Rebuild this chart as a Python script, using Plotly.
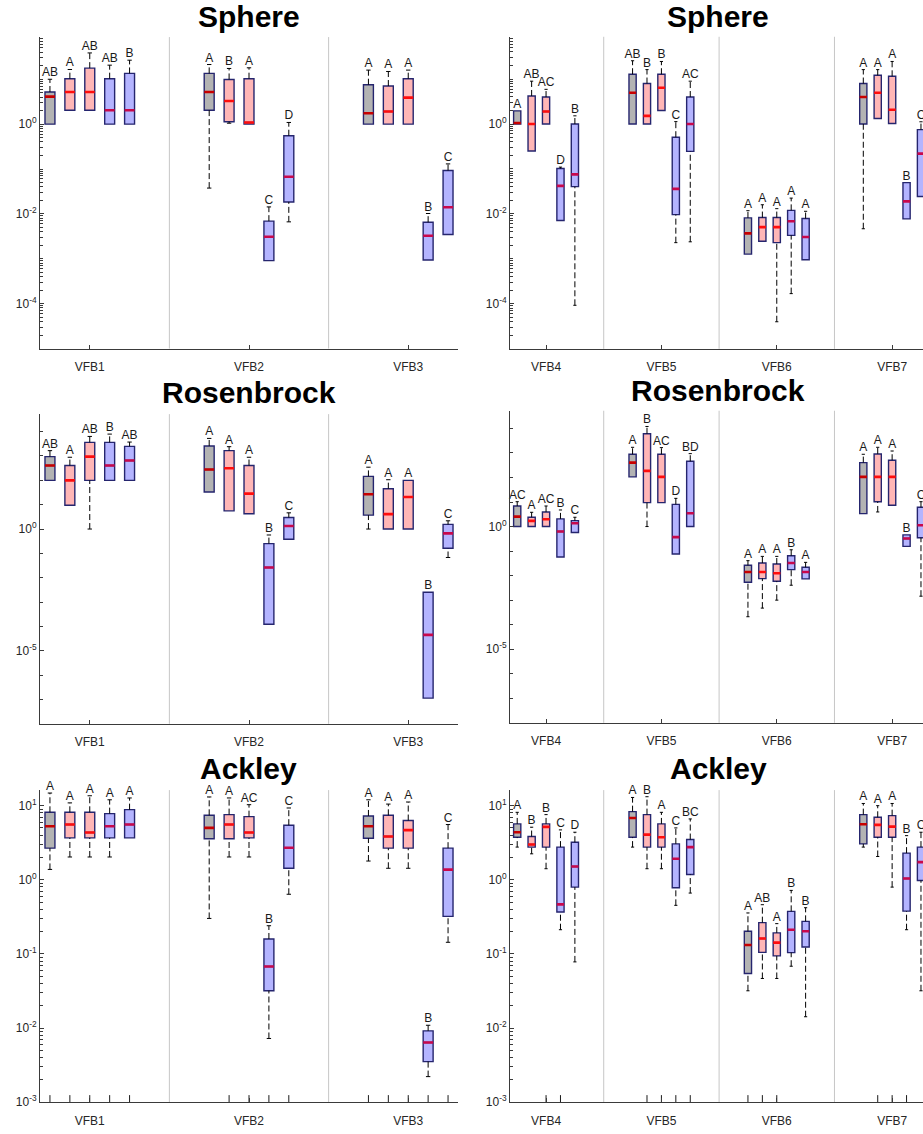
import plotly.graph_objects as go

# ---------------- data ----------------
GROUPS_L = ["VFB1", "VFB2", "VFB3"]
GROUPS_R = ["VFB4", "VFB5", "VFB6", "VFB7"]
BOX_KIND = ["gray", "pink", "pink", "blue", "blue"]

# Sphere, left (VFB1..VFB3)
SPH_L_Q1 = [1, 2.04, 2.04, 1, 1, 2.04, 1.13, 1, 0.00091, 0.01845, 1, 1, 1, 0.00094, 0.00348]
SPH_L_MED = [4.1, 5.2, 5.2, 2.04, 2.04, 5.2, 3.29, 1.09, 0.00309, 0.0671, 1.75, 1.91, 3.9, 0.00326, 0.01405]
SPH_L_Q3 = [5.2, 10.3, 17.7, 10.3, 13.5, 13.5, 9.9, 10.3, 0.00689, 0.552, 7.55, 7.06, 10.3, 0.00653, 0.0927]
SPH_L_LO = [1, 2.04, 2.04, 1, 1, 0.0376, 1.05, 1, 0.00091, 0.00665, 1, 1, 1, 0.00094, 0.00348]
SPH_L_HI = [10, 16.5, 38.6, 20.6, 26.6, 21.3, 17.4, 18, 0.0143, 1.09, 16, 14.9, 16, 0.0102, 0.13]
SPH_L_LBL = ["AB", "A", "AB", "AB", "B", "A", "B", "A", "C", "D", "A", "A", "A", "B", "C"]

# Sphere, right (VFB4..VFB7)
SPH_R_Q1 = [1, 0.251, 1, 0.00713, 0.0405, 1, 1, 2.0, 0.00966, 0.246,
            0.00128, 0.00247, 0.0023, 0.00334, 0.00096, 1, 1.33, 1.03, 0.00776, 0.0245]
SPH_R_MED = [1.05, 1.0, 1.9, 0.042, 0.0757, 4.97, 1.52, 6.4, 0.036, 1.0,
             0.0037, 0.0051, 0.0051, 0.0069, 0.00307, 3.98, 4.97, 2.07, 0.019, 0.219]
SPH_R_Q3 = [1.96, 4.2, 3.98, 0.1025, 1.0, 12.8, 7.95, 12.8, 0.509, 3.98,
            0.00817, 0.0083, 0.0083, 0.012, 0.00789, 7.95, 12.1, 11.5, 0.0497, 0.75]
SPH_R_LO = [1, 0.251, 1, 0.00713, 9.3e-5, 1, 1, 2.0, 0.0023, 0.0024,
            0.00128, 0.00247, 4.0e-5, 1.69e-4, 0.00096, 0.00468, 1.33, 1.03, 0.00776, 0.0245]
SPH_R_HI = [1.96, 8.96, 5.9, 0.11, 1.52, 25.5, 16.2, 24.6, 1.13, 8.96,
            0.0118, 0.016, 0.0131, 0.0225, 0.01145, 16.2, 16.2, 24.6, 0.0497, 1.12]
SPH_R_LBL = ["A", "AB", "AC", "D", "B", "AB", "B", "B", "C", "AC",
             "A", "A", "A", "A", "A", "A", "A", "A", "B", "C"]

# Rosenbrock, left
ROS_L_Q1 = [99.4, 9.5, 99.4, 99.4, 99.4, 33.2, 5.59, 4.22, 1.22e-4, 0.379, 3.72, 1, 1, 1.14e-7, 0.163]
ROS_L_MED = [406, 99.4, 946, 406, 650, 279, 316, 28.4, 0.0265, 1.325, 26.7, 4.09, 20.8, 4.49e-5, 0.666]
ROS_L_Q3 = [946, 406, 3630, 3630, 2494, 2570, 1660, 406, 0.252, 2.99, 145, 45.5, 99.4, 0.00254, 1.55]
ROS_L_LO = [99.4, 9.5, 1.0, 99.4, 99.4, 33.2, 5.59, 4.22, 1.22e-4, 0.379, 1, 1, 1, 1.14e-7, 0.0678]
ROS_L_HI = [1660, 888, 6370, 7940, 3743, 5280, 2415, 888, 0.569, 4.63, 347, 106, 99.4, 0.00254, 2.18]
ROS_L_LBL = ["AB", "A", "AB", "B", "AB", "A", "A", "A", "B", "C", "A", "A", "A", "B", "C"]

# Rosenbrock, right
ROS_R_Q1 = [1, 1, 1, 0.0571, 0.571, 106, 9.4, 9.4, 0.0758, 1,
            0.00537, 0.00756, 0.00589, 0.0175, 0.00733, 3.37, 10.3, 7.33, 0.155, 0.347]
ROS_R_MED = [2.54, 1.7, 1.98, 0.627, 1.36, 405, 186, 106, 0.37, 3.47,
             0.0141, 0.0141, 0.01244, 0.0327, 0.0141, 106, 106, 106, 0.326, 1.13]
ROS_R_Q3 = [6.88, 2.39, 3.93, 2.05, 1.75, 883, 6080, 883, 8.04, 459,
            0.0263, 0.0327, 0.0297, 0.0647, 0.0218, 405, 912, 504, 0.459, 6.08]
ROS_R_LO = [1, 1, 1, 0.0571, 0.571, 106, 1, 9.4, 0.0758, 1,
            2.11e-4, 4.74e-4, 0.001, 0.00406, 0.00733, 3.37, 3.93, 7.33, 0.155, 0.00145]
ROS_R_HI = [10.3, 3.81, 6.88, 4.74, 2.39, 1698, 12000, 1645, 14.1, 938,
            0.0407, 0.0608, 0.0608, 0.113, 0.0347, 883, 1698, 1202, 0.459, 10.3]
ROS_R_LBL = ["AC", "A", "AC", "B", "C", "A", "B", "AC", "D", "BD",
             "A", "A", "A", "B", "A", "A", "A", "A", "B", "C"]

# Ackley, left
ACK_L_Q1 = [2.67, 3.68, 3.68, 3.68, 3.68, 3.57, 3.57, 3.68, 0.0318, 1.43, 3.64, 2.67, 2.67, 0.00352, 0.321]
ACK_L_MED = [5.28, 5.56, 4.35, 5.28, 5.56, 5.01, 5.56, 4.35, 0.0676, 2.7, 5.28, 3.84, 4.67, 0.00638, 1.37]
ACK_L_Q3 = [8.14, 8.14, 8.14, 7.81, 8.84, 7.41, 7.57, 7.11, 0.159, 5.45, 7.26, 7.41, 6.3, 0.00916, 2.67]
ACK_L_LO = [1.38, 2.03, 2.03, 2.03, 3.68, 0.301, 2.03, 2.03, 0.00723, 0.638, 1.79, 1.43, 1.43, 0.00221, 0.1435]
ACK_L_HI = [14.8, 10.9, 13.6, 12.0, 12.7, 13.1, 12.7, 10.3, 0.24, 9.3, 12.0, 10.5, 11.2, 0.0109, 5.56]
ACK_L_LBL = ["A", "A", "A", "A", "A", "A", "A", "AC", "B", "C", "A", "A", "A", "B", "C"]
ACK_L_STUB = [1, 1, 1, 1, 1, 0, 1, 1, 1, 1, 1, 1, 1, 1, 1]

# Ackley, right
ACK_R_Q1 = [3.75, 2.76, 2.76, 0.367, 0.796, 3.75, 2.76, 2.76, 0.78, 1.18,
            0.0544, 0.105, 0.094, 0.104, 0.124, 3.05, 3.75, 3.75, 0.378, 0.98]
ACK_R_MED = [4.38, 2.99, 5.17, 0.466, 1.51, 6.82, 4.07, 3.75, 1.92, 2.76,
             0.132, 0.161, 0.142, 0.212, 0.202, 5.61, 5.5, 5.21, 1.04, 1.73]
ACK_R_Q3 = [5.67, 3.83, 5.67, 2.76, 3.21, 8.3, 7.57, 5.67, 3.05, 3.49,
            0.202, 0.264, 0.192, 0.375, 0.275, 7.57, 6.97, 7.33, 2.29, 2.76]
ACK_R_LO = [2.76, 2.24, 1.41, 0.212, 0.078, 2.76, 1.41, 1.41, 0.452, 0.662,
            0.0318, 0.0466, 0.0466, 0.0682, 0.0142, 2.76, 2.06, 0.796, 0.212, 0.0318]
ACK_R_HI = [8.13, 5.12, 7.57, 4.71, 4.38, 12.9, 13.2, 8.13, 5.01, 6.62,
            0.357, 0.461, 0.256, 0.719, 0.42, 10.7, 10.0, 10.7, 3.94, 4.38]
ACK_R_LBL = ["A", "B", "B", "C", "D", "A", "B", "A", "C", "BC",
             "A", "AB", "A", "B", "B", "A", "A", "A", "B", "C"]
ACK_R_STUB = [0, 0, 1, 1, 0, 0, 1, 1, 1, 1, 1, 1, 1, 0, 0, 0, 1, 1, 1, 0]

TITLES = ["Sphere", "Sphere", "Rosenbrock", "Rosenbrock", "Ackley", "Ackley"]

# ---------------- style ----------------
W, H = 923, 1134
FONT = "Liberation Sans, Arial, Helvetica, sans-serif"
TXT = "#262626"
EDGE = "#25256e"
FILL = {"gray": "#b3b3b3", "pink": "#ffb6b6", "blue": "#b4b4ff"}
MEDC = {"gray": "#c80000", "pink": "#ff0d0d", "blue": "#c8084c"}
SEP = "#c6c6c6"
AXC = "#3a3a3a"

# pixel geometry of each panel: (x0, x1, ytop, ybottom, xrange_right)
PANEL_PX = [
    (40, 458, 37.3, 350.7, 20.5),
    (510, 923, 37.0, 351.0, 28.14),
    (40, 458, 416.7, 728.3, 20.5),
    (510, 923, 413.3, 727.3, 28.14),
    (40, 458, 795, 1109, 20.5),
    (510, 923, 795, 1109, 28.14),
]
YRANGES = [(-5, 1.94), (-5, 1.94), (-8, 4.72), (-8, 4.72), (-3, 1.21), (-3, 1.21)]
TITLE_Y = [17, 17, 395, 393, 773, 773]


def sup(e):
    return "10<sup>%d</sup>" % e


YTICKS = {
    "Sphere": ([1e-4, 1e-2, 1], [sup(-4), sup(-2), sup(0)]),
    "Rosenbrock": ([1e-5, 1], [sup(-5), sup(0)]),
    "Ackley": ([1e-3, 1e-2, 1e-1, 1, 10], [sup(-3), sup(-2), sup(-1), sup(0), sup(1)]),
}


def minor_vals(name):
    if name == "Rosenbrock":
        return [10.0 ** e for e in range(-8, 5) if e not in (-5, 0)]
    lo, hi = (-5, 2) if name == "Sphere" else (-3, 2)
    out = []
    for e in range(lo, hi):
        for m in range(1, 10):
            v = m * 10.0 ** e
            if m == 1 and v in YTICKS[name][0]:
                continue
            out.append(v)
    return out


PANELS = [
    (GROUPS_L, SPH_L_Q1, SPH_L_MED, SPH_L_Q3, SPH_L_LO, SPH_L_HI, SPH_L_LBL, None),
    (GROUPS_R, SPH_R_Q1, SPH_R_MED, SPH_R_Q3, SPH_R_LO, SPH_R_HI, SPH_R_LBL, None),
    (GROUPS_L, ROS_L_Q1, ROS_L_MED, ROS_L_Q3, ROS_L_LO, ROS_L_HI, ROS_L_LBL, None),
    (GROUPS_R, ROS_R_Q1, ROS_R_MED, ROS_R_Q3, ROS_R_LO, ROS_R_HI, ROS_R_LBL, None),
    (GROUPS_L, ACK_L_Q1, ACK_L_MED, ACK_L_Q3, ACK_L_LO, ACK_L_HI, ACK_L_LBL, ACK_L_STUB),
    (GROUPS_R, ACK_R_Q1, ACK_R_MED, ACK_R_Q3, ACK_R_LO, ACK_R_HI, ACK_R_LBL, ACK_R_STUB),
]

fig = go.Figure()
layout = dict(width=W, height=H, margin=dict(l=0, r=0, t=0, b=0),
              paper_bgcolor="white", plot_bgcolor="white", showlegend=False,
              boxmode="overlay", font=dict(family=FONT, size=12, color=TXT))
shapes, annotations = [], []

GSTEP = 8   # box slots per group (5 boxes + gap)
BOXW = 0.5
CAPW = 0.11

for k, (groups, q1, med, q3, lo, hi, lbl, stub) in enumerate(PANELS):
    n = k + 1
    sfx = "" if n == 1 else str(n)
    xa, ya = "x" + sfx, "y" + sfx
    x0, x1, yt, yb, xr = PANEL_PX[k]
    G = len(groups)
    pos = [GSTEP * g + j for g in range(G) for j in range(5)]
    kinds = [BOX_KIND[i % 5] for i in range(len(pos))]

    # boxes
    for kind in ["gray", "pink", "blue"]:
        idx = [i for i in range(len(pos)) if kinds[i] == kind]
        fig.add_trace(go.Box(
            x=[pos[i] for i in idx], q1=[q1[i] for i in idx], median=[med[i] for i in idx],
            q3=[q3[i] for i in idx], lowerfence=[q1[i] for i in idx], upperfence=[q3[i] for i in idx],
            width=BOXW, fillcolor=FILL[kind], line=dict(color=EDGE, width=1.4),
            boxpoints=False, hoverinfo="skip", xaxis=xa, yaxis=ya))

    # whiskers (dashed) and caps
    wx, wy, cx, cy = [], [], [], []
    for i, p in enumerate(pos):
        if hi[i] > q3[i] * 1.001:
            wx += [p, p, None]; wy += [q3[i], hi[i], None]
            cx += [p - CAPW, p + CAPW, None]; cy += [hi[i], hi[i], None]
        if lo[i] < q1[i] * 0.999:
            wx += [p, p, None]; wy += [lo[i], q1[i], None]
            cx += [p - CAPW, p + CAPW, None]; cy += [lo[i], lo[i], None]
    fig.add_trace(go.Scatter(x=wx, y=wy, mode="lines", line=dict(color="black", width=1, dash="6px,3px"),
                             hoverinfo="skip", xaxis=xa, yaxis=ya))
    fig.add_trace(go.Scatter(x=cx, y=cy, mode="lines", line=dict(color="black", width=1),
                             hoverinfo="skip", xaxis=xa, yaxis=ya))

    # medians
    for kind in ["gray", "pink", "blue"]:
        mx, my = [], []
        for i, p in enumerate(pos):
            if kinds[i] == kind:
                mx += [p - BOXW / 2, p + BOXW / 2, None]; my += [med[i], med[i], None]
        fig.add_trace(go.Scatter(x=mx, y=my, mode="lines", line=dict(color=MEDC[kind], width=2.6),
                                 hoverinfo="skip", xaxis=xa, yaxis=ya))

    # bottom stubs (Ackley)
    if stub is not None:
        ylo = 10 ** YRANGES[k][0]
        ytop = 10 ** (YRANGES[k][0] + 0.095)
        sx, sy = [], []
        for i, p in enumerate(pos):
            if stub[i]:
                sx += [p, p, None]; sy += [ylo, ytop, None]
        fig.add_trace(go.Scatter(x=sx, y=sy, mode="lines", line=dict(color="#1a1a1a", width=1),
                                 hoverinfo="skip", xaxis=xa, yaxis=ya, cliponaxis=False))

    # significance letters
    fig.add_trace(go.Scatter(x=pos, y=hi, mode="text", text=lbl, textposition="top center",
                             textfont=dict(size=12, color="#1a1a1a", family=FONT),
                             hoverinfo="skip", xaxis=xa, yaxis=ya, cliponaxis=False))

    # separators
    for g in range(G - 1):
        shapes.append(dict(type="line", xref=xa, yref=ya + " domain", x0=GSTEP * g + 6, x1=GSTEP * g + 6,
                           y0=0, y1=1, line=dict(color=SEP, width=1), layer="below"))

    name = TITLES[k]
    tv, tt = YTICKS[name]
    layout["xaxis" + sfx] = dict(
        domain=[x0 / W, x1 / W], range=[-0.5, xr], anchor=ya,
        tickvals=[GSTEP * g + 2 for g in range(G)], ticktext=groups,
        ticks="inside", ticklen=4, tickcolor=AXC, showline=True, linecolor=AXC, linewidth=1,
        ticklabelstandoff=7,
        showgrid=False, zeroline=False, tickfont=dict(size=12, color=TXT, family=FONT))
    layout["yaxis" + sfx] = dict(
        domain=[1 - yb / H, 1 - yt / H], type="log", range=list(YRANGES[k]), anchor=xa,
        tickmode="array", tickvals=tv, ticktext=tt,
        ticks="inside", ticklen=4, tickcolor=AXC, showline=True, linecolor=AXC, linewidth=1,
        showgrid=False, zeroline=False, tickfont=dict(size=12, color=TXT, family=FONT),
        minor=dict(tickmode="array", tickvals=minor_vals(name), ticks="inside", ticklen=2.5,
                   tickcolor=AXC, showgrid=False))

    annotations.append(dict(text="<b>%s</b>" % name, xref=xa + " domain", x=0.5 if x1 < W else (718 - x0) / (x1 - x0),
                            yref="paper", y=1 - TITLE_Y[k] / H, yanchor="middle", xanchor="center",
                            showarrow=False, font=dict(size=30, color="black", family=FONT)))

layout["shapes"] = shapes
layout["annotations"] = annotations
fig.update_layout(**layout)
fig.write_html("out.html", config={"displayModeBar": False, "staticPlot": True},
               post_script="document.body.style.margin='0';document.body.style.padding='0';"
                           "document.body.style.overflow='hidden';")
